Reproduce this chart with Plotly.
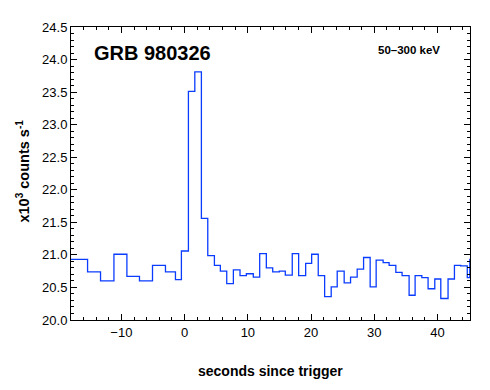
import plotly.graph_objects as go

# Bin edges (seconds since trigger) and count rates (x10^3 counts/s)
bin_edges = [-19.0, -15.35, -13.30, -11.18, -9.13, -7.14, -5.08, -3.03, -1.45, -0.51,
             0.60, 1.61, 2.65, 3.66, 4.71, 5.65, 6.66, 7.71, 8.76, 9.76,
             10.86, 11.87, 12.92, 13.93, 14.97, 15.92, 17.02, 18.03, 19.14, 20.09,
             21.13, 22.14, 23.18, 24.13, 25.23, 26.24, 27.29, 28.30, 29.34, 30.29,
             31.39, 32.34, 33.40, 34.39, 35.50, 36.45, 37.51, 38.50, 39.56, 40.51,
             41.66, 42.67, 43.66, 44.70, 45.10, 46.0]
rates = [20.93, 20.74, 20.60, 21.01, 20.67, 20.60, 20.84, 20.74, 20.62, 21.06,
         23.51, 23.81, 21.56, 20.99, 20.84, 20.75, 20.56, 20.77, 20.68, 20.71,
         20.66, 21.02, 20.80, 20.74, 20.75, 20.69, 21.02, 20.68, 20.87, 21.01,
         20.68, 20.36, 20.51, 20.75, 20.57, 20.66, 20.78, 20.96, 20.51, 20.92,
         20.88, 20.84, 20.73, 20.68, 20.38, 20.68, 20.65, 20.48, 20.63, 20.33,
         20.63, 20.84, 20.83, 20.65, 20.93]

title_text = "GRB 980326"
band_text = "50\u2013300 keV"
x_title = "seconds since trigger"
y_title = "x10<sup>3</sup> counts s<sup>-1</sup>"

FONT = "Liberation Sans, Arial, Helvetica, sans-serif"

fig = go.Figure()
fig.add_trace(go.Scatter(
    x=bin_edges,
    y=rates + [rates[-1]],
    mode="lines",
    line=dict(shape="hv", color="#0a3cff", width=1.3),
    hoverinfo="skip",
    showlegend=False,
))

axis_common = dict(
    showline=True, linecolor="black", linewidth=1, mirror="ticks",
    ticks="inside", ticklen=6, tickcolor="black", tickwidth=1,
    showgrid=False, zeroline=False,
    tickfont=dict(family=FONT, size=13, color="black"),
)

fig.update_xaxes(
    range=[-17.97, 45.13], tick0=0, dtick=10,
    minor=dict(ticks="inside", ticklen=3, dtick=2, tick0=0, tickcolor="black", showgrid=False),
    **axis_common,
)
fig.update_yaxes(
    range=[20.0, 24.5], tick0=20, dtick=0.5, tickformat=".1f",
    minor=dict(ticks="inside", ticklen=3, dtick=0.1, tick0=20, tickcolor="black", showgrid=False),
    **axis_common,
)

# page body adds ~8px offset; compensate so the plot area lands at x 71-470, y 20-320
fig.update_layout(
    width=490, height=390,
    margin=dict(l=63, r=28, t=12, b=78),
    paper_bgcolor="white", plot_bgcolor="white",
    font=dict(family=FONT, color="black"),
    annotations=[
        dict(text="<b>%s</b>" % title_text, xref="paper", yref="paper",
             x=0.2055, y=0.91, xanchor="center", yanchor="middle",
             showarrow=False, font=dict(size=20, family=FONT, color="black")),
        dict(text="<b>%s</b>" % band_text, xref="paper", yref="paper",
             x=0.846, y=0.92, xanchor="center", yanchor="middle",
             showarrow=False, font=dict(size=11.5, family=FONT, color="black")),
        dict(text="<b>%s</b>" % x_title, xref="paper", yref="paper",
             x=0.499, y=-0.173, xanchor="center", yanchor="middle",
             showarrow=False, font=dict(size=14, family=FONT, color="black")),
        dict(text="<b>%s</b>" % y_title, xref="paper", yref="paper",
             x=-0.12, y=0.507, xanchor="center", yanchor="middle", textangle=-90,
             showarrow=False, font=dict(size=14.5, family=FONT, color="black")),
    ],
)

fig.write_html("out.html")
